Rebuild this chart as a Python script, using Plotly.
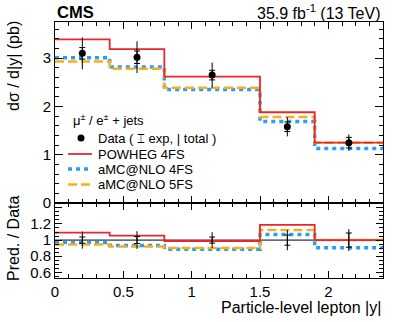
import plotly.graph_objects as go

# ---- data ----
bin_edges = [0.0, 0.4, 0.8, 1.5, 1.9, 2.4]
bin_centers = [0.2, 0.6, 1.15, 1.7, 2.15]
data_vals = [3.10, 3.02, 2.65, 1.58, 1.25]
data_err_total = [0.33, 0.33, 0.26, 0.20, 0.17]
data_err_exp = [0.12, 0.13, 0.10, 0.10, 0.11]
powheg_4fs = [3.39, 3.19, 2.62, 1.88, 1.25]
amcnlo_4fs = [3.01, 2.82, 2.35, 1.69, 1.13]
amcnlo_5fs = [2.93, 2.78, 2.39, 1.78, 1.25]
x_tick_vals = [0, 0.5, 1, 1.5, 2]
x_tick_text = ["0", "0.5", "1", "1.5", "2"]
main_tick_vals = [0, 1, 2, 3]
main_tick_text = ["0", "1", "2", "3"]
ratio_tick_vals = [0.6, 0.8, 1.0, 1.2, 1.4]
ratio_tick_text = ["0.6", "0.8", "1", "1.2", " "]

FONT = "Liberation Sans, Arial, Helvetica, sans-serif"
RED = "#e8272b"
BLUE = "#2a9df4"
ORANGE = "#f6b01c"


def step_y(vals):
    return list(vals) + [vals[-1]]


fig = go.Figure()

styles = [
    (amcnlo_4fs, BLUE, 3.5, "4px,4px"),
    (amcnlo_5fs, ORANGE, 2.5, "9px,4px"),
    (powheg_4fs, RED, 1.8, "solid"),
]

# main panel predictions
for vals, col, w, dash in styles:
    fig.add_trace(go.Scatter(x=bin_edges, y=step_y(vals), mode="lines",
                             line=dict(color=col, width=w, dash=dash, shape="hv"),
                             xaxis="x", yaxis="y", showlegend=False, hoverinfo="skip"))

# data: total error (no caps), exp error (caps)
fig.add_trace(go.Scatter(x=bin_centers, y=data_vals, mode="markers",
                         marker=dict(color="rgba(0,0,0,0)", size=1),
                         error_y=dict(type="data", array=data_err_total, width=0,
                                      color="black", thickness=1),
                         xaxis="x", yaxis="y", showlegend=False))
fig.add_trace(go.Scatter(x=bin_centers, y=data_vals, mode="markers",
                         marker=dict(color="black", size=7),
                         error_y=dict(type="data", array=data_err_exp, width=3,
                                      color="black", thickness=1),
                         xaxis="x", yaxis="y", showlegend=False))

# ratio panel
data_ratio = [d / d for d in data_vals]
fig.add_trace(go.Scatter(x=bin_edges, y=step_y(data_ratio), mode="lines",
                         line=dict(color="black", width=1, shape="hv"),
                         xaxis="x2", yaxis="y2", showlegend=False, hoverinfo="skip"))
for vals, col, w, dash in styles:
    r = [p / d for p, d in zip(vals, data_vals)]
    fig.add_trace(go.Scatter(x=bin_edges, y=step_y(r), mode="lines",
                             line=dict(color=col, width=w, dash=dash, shape="hv"),
                             xaxis="x2", yaxis="y2", showlegend=False, hoverinfo="skip"))
rel_tot = [e / d for e, d in zip(data_err_total, data_vals)]
rel_exp = [e / d for e, d in zip(data_err_exp, data_vals)]
fig.add_trace(go.Scatter(x=bin_centers, y=data_ratio, mode="markers",
                         marker=dict(color="rgba(0,0,0,0)", size=1),
                         error_y=dict(type="data", array=rel_tot, width=0,
                                      color="black", thickness=1),
                         xaxis="x2", yaxis="y2", showlegend=False))
fig.add_trace(go.Scatter(x=bin_centers, y=data_ratio, mode="markers",
                         marker=dict(color="rgba(0,0,0,0)", size=1),
                         error_y=dict(type="data", array=rel_exp, width=3,
                                      color="black", thickness=1),
                         xaxis="x2", yaxis="y2", showlegend=False))

SPLIT = 0.293
ax_common = dict(showline=True, linecolor="black", linewidth=1, mirror="allticks",
                 ticks="inside", tickcolor="black", showgrid=False, zeroline=False,
                 tickfont=dict(family=FONT, size=15, color="black"))

fig.update_layout(
    width=399, height=322,
    margin=dict(l=55, r=16, t=22, b=44),
    paper_bgcolor="white", plot_bgcolor="white",
    font=dict(family=FONT, color="black"),
    xaxis=dict(domain=[0, 1], anchor="y", range=[0, 2.4], tickvals=x_tick_vals,
               showticklabels=False, ticklen=7,
               minor=dict(dtick=0.1, ticklen=4, ticks="inside", tickcolor="black"),
               **ax_common),
    yaxis=dict(domain=[SPLIT, 1], anchor="x", range=[0, 3.75],
               tickvals=main_tick_vals, ticktext=main_tick_text, ticklen=8,
               minor=dict(dtick=0.2, ticklen=4, ticks="inside", tickcolor="black"),
               **ax_common),
    xaxis2=dict(domain=[0, 1], anchor="y2", range=[0, 2.4], tickvals=x_tick_vals,
                ticktext=x_tick_text, ticklen=7,
                minor=dict(dtick=0.1, ticklen=4, ticks="inside", tickcolor="black"),
                **ax_common),
    yaxis2=dict(domain=[0, SPLIT], anchor="x2", range=[0.53, 1.46],
                tickvals=ratio_tick_vals, ticktext=ratio_tick_text, ticklen=7,
                minor=dict(dtick=0.05, ticklen=4, ticks="inside", tickcolor="black"),
                **ax_common),
)


def py(pix):
    return (278 - pix) / 256.0


def px(pix):
    return (pix - 55) / 328.0


ann = []
ann.append(dict(text="<b>CMS</b>", x=0, y=py(12), xref="paper", yref="paper",
                xanchor="left", yanchor="middle", showarrow=False,
                font=dict(family=FONT, size=16.5, color="black")))
ann.append(dict(text="35.9 fb<sup>-1</sup> (13 TeV)", x=1, y=py(12), xref="paper",
                yref="paper", xanchor="right", yanchor="middle", showarrow=False,
                font=dict(family=FONT, size=16, color="black")))
ann.append(dict(text="dσ / d|y| (pb)", textangle=-90, x=px(13), y=py(19),
                xref="paper", yref="paper", xanchor="center", yanchor="top",
                showarrow=False, font=dict(family=FONT, size=16, color="black")))
ann.append(dict(text="Pred. / Data", textangle=-90, x=px(13), y=py(239),
                xref="paper", yref="paper", xanchor="center", yanchor="middle",
                showarrow=False, font=dict(family=FONT, size=16, color="black")))
ann.append(dict(text="Particle-level lepton |y|", x=1, y=py(307), xref="paper",
                yref="paper", xanchor="right", yanchor="middle", showarrow=False,
                font=dict(family=FONT, size=16, color="black")))

# legend (drawn manually)
LF = dict(family=FONT, size=13, color="black")
ann.append(dict(text="μ<sup>±</sup> / e<sup>±</sup> + jets", x=px(71), y=py(120),
                xref="paper", yref="paper", xanchor="left", yanchor="middle",
                showarrow=False, font=LF))
leg_rows = [
    ("Data ( ⌶ exp, | total )", 138),
    ("POWHEG 4FS", 154),
    ("aMC@NLO 4FS", 169),
    ("aMC@NLO 5FS", 184.5),
]
for txt, yy in leg_rows:
    ann.append(dict(text=txt, x=px(96), y=py(yy), xref="paper", yref="paper",
                    xanchor="left", yanchor="middle", showarrow=False, font=LF))

shapes = []
shapes.append(dict(type="circle", xref="paper", yref="paper", xsizemode="pixel",
                   ysizemode="pixel", xanchor=px(81), yanchor=py(138),
                   x0=-3.5, x1=3.5, y0=-3.5, y1=3.5,
                   fillcolor="black", line=dict(width=0)))
for (vals, col, w, dash), yy in zip([styles[2], styles[0], styles[1]], [154, 169, 184.5]):
    shapes.append(dict(type="line", xref="paper", yref="paper",
                       x0=px(68), x1=px(92), y0=py(yy), y1=py(yy),
                       line=dict(color=col, width=w, dash=dash)))

fig.update_layout(annotations=ann, shapes=shapes)

fig.write_html("out.html", config={"displayModeBar": False},
               post_script="document.body.style.margin='0';document.body.style.padding='0';")
